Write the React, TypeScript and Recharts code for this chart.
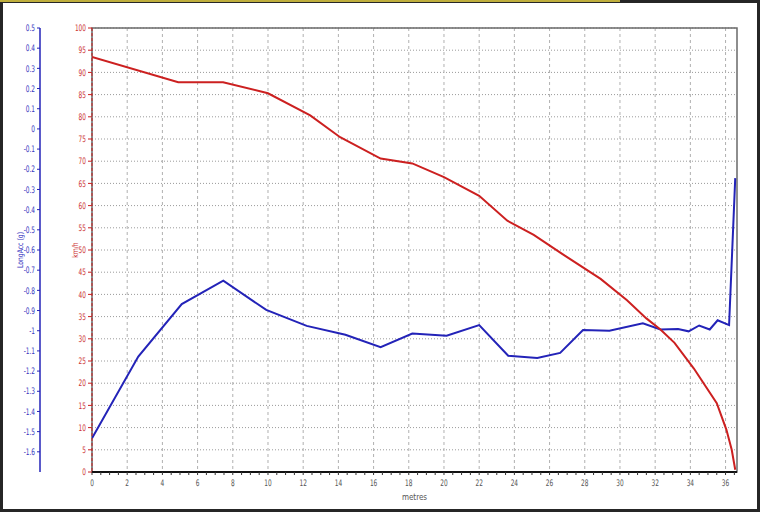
import {
  CartesianGrid,
  Line,
  LineChart,
  ReferenceArea,
  XAxis,
  YAxis
} from "recharts";

// speed trace (red, km/h axis)
const speedDist = [0, 4.9, 7.45, 10.0, 12.4, 14.1, 16.4, 18.2, 20.0, 22.0, 23.6, 25.1, 26.8, 28.9, 30.4, 31.5, 32.3, 33.1, 34.2, 35.5, 36.05, 36.35, 36.55];
const speedKmh = [93.5, 87.8, 87.8, 85.3, 80.3, 75.4, 70.6, 69.5, 66.4, 62.2, 56.6, 53.4, 48.9, 43.5, 38.7, 34.6, 32.1, 29.1, 23.3, 15.5, 9.5, 5.0, 0.5];

// longitudinal acceleration trace (blue, g axis)
const accDist = [0, 2.63, 5.1, 7.46, 9.9, 12.2, 14.4, 16.4, 18.2, 20.15, 22.0, 23.65, 25.3, 26.6, 27.9, 29.4, 31.3, 32.3, 33.3, 33.9, 34.5, 35.1, 35.55, 36.2, 36.55];
const accG = [-1.533, -1.128, -0.868, -0.752, -0.897, -0.976, -1.02, -1.082, -1.014, -1.025, -0.972, -1.124, -1.135, -1.11, -0.996, -1.0, -0.963, -0.994, -0.992, -1.003, -0.974, -0.994, -0.948, -0.972, -0.244];

const distTicks = [0, 2, 4, 6, 8, 10, 12, 14, 16, 18, 20, 22, 24, 26, 28, 30, 32, 34, 36];
const kmhTicks = [0, 5, 10, 15, 20, 25, 30, 35, 40, 45, 50, 55, 60, 65, 70, 75, 80, 85, 90, 95, 100];
const accTicks = [0.5, 0.4, 0.3, 0.2, 0.1, 0, -0.1, -0.2, -0.3, -0.4, -0.5, -0.6, -0.7, -0.8, -0.9, -1, -1.1, -1.2, -1.3, -1.4, -1.5, -1.6];

const X_MAX = 36.65;
const minorTicks = distTicks.flatMap((t) => [t, t + 0.5, t + 1, t + 1.5]).filter((t) => t <= X_MAX);

const speedData = speedDist.map((m, i) => ({ m, v: speedKmh[i] }));
const accData = accDist.map((m, i) => ({ m, g: accG[i] }));

const FONT = "'DejaVu Sans Condensed', 'Liberation Sans', sans-serif";
const RED = "#cc2020";
const BLUE = "#2323b8";

// squeezed tick text, the original uses a narrow font
function narrowTick(color: string, dy: string, show: (v: number) => boolean = () => true) {
  return (props: any) => {
    const { x, y, payload, textAnchor } = props;
    if (!show(payload.value)) return <g />;
    return (
      <g transform={`translate(${x},${y}) scale(0.72,1)`}>
        <text x={0} y={0} dy={dy} fill={color} fontSize={9} textAnchor={textAnchor}>
          {String(payload.value)}
        </text>
      </g>
    );
  };
}

function axisTitle(text: string, color: string, fromLeft: (w: number) => number) {
  return {
    content: (props: any) => {
      const vb = props.viewBox || {};
      const cx = vb.x + fromLeft(vb.width);
      const cy = vb.y + vb.height / 2;
      return (
        <g transform={`translate(${cx},${cy}) rotate(-90) scale(0.85,1)`}>
          <text x={0} y={0} fill={color} fontSize={8} textAnchor="middle" dominantBaseline="central">
            {text}
          </text>
        </g>
      );
    }
  };
}

export default function App() {
  return (
    <div
      style={{
        position: "absolute",
        left: 0,
        top: 0,
        width: 760,
        height: 512,
        background: "#fff",
        fontFamily: FONT
      }}
    >
      <LineChart width={760} height={512} margin={{ top: 28, right: 23, bottom: 0, left: 0 }}>
        <CartesianGrid yAxisId="kmh" vertical={false} stroke="#9a9a9a" strokeDasharray="1 2" />
        <CartesianGrid
          yAxisId="kmh"
          horizontal={false}
          verticalValues={distTicks}
          stroke="#b0b0b0"
          strokeDasharray="3 3"
        />
        <XAxis
          dataKey="m"
          type="number"
          domain={[0, X_MAX]}
          allowDataOverflow
          ticks={minorTicks}
          interval={0}
          height={40}
          axisLine={{ stroke: "#111", strokeWidth: 2 }}
          tickLine={{ stroke: "#333" }}
          tickSize={3}
          tickMargin={5}
          tick={narrowTick("#555", "0.71em", (v) => v % 2 === 0)}
          label={{ value: "metres", position: "insideBottom", offset: 12, fill: "#555", fontSize: 8 }}
        />
        <YAxis
          yAxisId="longacc"
          type="number"
          domain={[-1.7, 0.5]}
          ticks={accTicks}
          interval={0}
          width={40}
          axisLine={{ stroke: BLUE, strokeWidth: 1.5 }}
          tickLine={{ stroke: BLUE }}
          tickSize={3}
          tickMargin={2}
          tick={narrowTick("#3535c0", "0.35em")}
          label={axisTitle("LongAcc (g)", "#3535c0", (w) => w / 2)}
        />
        <YAxis
          yAxisId="kmh"
          type="number"
          domain={[0, 100]}
          ticks={kmhTicks}
          interval={0}
          width={52}
          axisLine={{ stroke: RED, strokeDasharray: "3 2" }}
          tickLine={{ stroke: RED }}
          tickSize={4}
          tickMargin={2}
          tick={narrowTick("#cc3333", "0.35em")}
          label={axisTitle("km/h", "#cc3333", (w) => w - 17)}
        />
        <ReferenceArea
          yAxisId="kmh"
          x1={0}
          x2={X_MAX}
          y1={0}
          y2={100}
          fill="none"
          stroke="#6a6a6a"
          strokeWidth={1.5}
        />
        <Line
          yAxisId="longacc"
          data={accData}
          dataKey="g"
          type="linear"
          stroke={BLUE}
          strokeWidth={2}
          dot={false}
          isAnimationActive={false}
        />
        <Line
          yAxisId="kmh"
          data={speedData}
          dataKey="v"
          type="linear"
          stroke={RED}
          strokeWidth={2}
          dot={false}
          isAnimationActive={false}
        />
      </LineChart>
      <div
        style={{
          position: "absolute",
          inset: 0,
          border: "3px solid #262626",
          boxSizing: "border-box",
          pointerEvents: "none"
        }}
      />
      <div style={{ position: "absolute", left: 0, top: 0, width: 620, height: 2, background: "#bfae3c" }} />
    </div>
  );
}
